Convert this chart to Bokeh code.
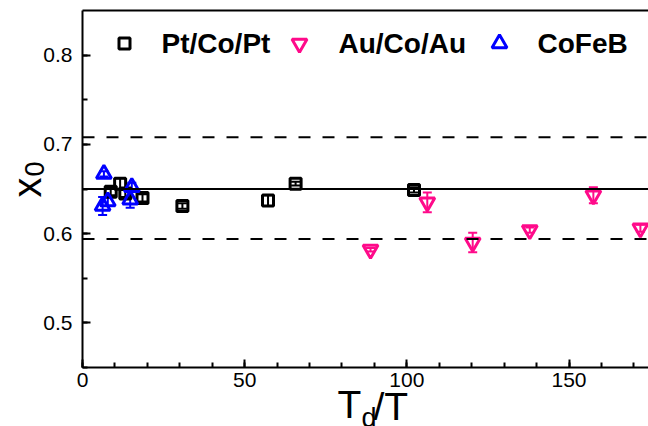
import math
from bokeh.plotting import figure
from bokeh.models import (ColumnDataSource, Whisker, TeeHead, Span, Label, Title,
                          LinearAxis, SingleIntervalTicker, FixedTicker)
from bokeh.embed import file_html
from bokeh.resources import INLINE

# ---- data ----
pt_x = [8.7, 11.6, 13.2, 18.5, 30.8, 57.2, 65.7, 102.2]
pt_y = [0.647, 0.656, 0.645, 0.640, 0.631, 0.637, 0.656, 0.649]
pt_err = [0.004, 0.006, 0.004, 0.004, 0.003, 0.006, 0.002, 0.003]

au_x = [88.8, 106.3, 120.3, 137.9, 157.5, 172.0]
au_y = [0.582, 0.635, 0.590, 0.604, 0.643, 0.606]
au_err = [0.002, 0.011, 0.011, 0.003, 0.009, 0.004]

cofeb_x = [6.6, 6.2, 7.8, 15.2, 14.7]
cofeb_y = [0.667, 0.631, 0.636, 0.652, 0.638]
cofeb_err = [0.003, 0.010, 0.005, 0.005, 0.009]

mean_line = 0.650
band_upper = 0.708
band_lower = 0.594

series_names = ["Pt/Co/Pt", "Au/Co/Au", "CoFeB"]

X0, X1 = 0, 174.5
Y0, Y1 = 0.45, 0.85

PINK = "#ff0a8a"
BLUE = "#0000ff"
FONT = "Liberation Sans"

W, H = 648, 426
BL, BR, BT, BB = 82, 0, 10, 59
fw = W - BL - BR
fh = H - BT - BB

def dx(px):
    return X0 + (px - BL) / fw * (X1 - X0)

def dy(py):
    return Y1 - (py - BT) / fh * (Y1 - Y0)

p = figure(width=W, height=H, x_range=(X0, X1), y_range=(Y0, Y1),
           output_backend="svg", toolbar_location=None,
           min_border_left=BL, min_border_right=BR, min_border_top=BT,
           min_border_bottom=BB, x_axis_type=None, y_axis_type=None)
p.outline_line_color = None
p.xgrid.visible = False
p.ygrid.visible = False
p.background_fill_color = "white"
p.border_fill_color = "white"

xaxis = LinearAxis(ticker=SingleIntervalTicker(interval=50, num_minor_ticks=5))
yaxis = LinearAxis(ticker=SingleIntervalTicker(interval=0.1, num_minor_ticks=2))
for ax in (xaxis, yaxis):
    ax.axis_line_width = 2
    ax.axis_line_color = "black"
    ax.major_tick_in = 8
    ax.major_tick_out = 0
    ax.minor_tick_in = 5
    ax.minor_tick_out = 0
    ax.major_tick_line_width = 2
    ax.minor_tick_line_width = 2
    ax.major_tick_line_color = "black"
    ax.minor_tick_line_color = "black"
    ax.major_label_text_font = FONT
    ax.major_label_text_font_size = "21px"
    ax.major_label_text_color = "black"
xaxis.major_label_standoff = 5
yaxis.major_label_standoff = 10
p.add_layout(xaxis, "below")
p.add_layout(yaxis, "left")

top = LinearAxis(ticker=FixedTicker(ticks=[]))
top.axis_line_width = 2
top.major_tick_in = 0
top.major_tick_out = 0
top.minor_tick_in = 0
top.minor_tick_out = 0
top.major_label_text_font_size = "0px"
top.major_label_standoff = 0
p.add_layout(top, "above")

# axis titles as side-panel titles (x with subscript 0; T with subscript d, /T)
def side_title(text, size, place, offset, standoff, valign="top"):
    t = Title(text=text, align="left", offset=offset, standoff=standoff,
              vertical_align=valign, text_font=FONT, text_font_size=size,
              text_font_style="normal", text_color="black")
    p.add_layout(t, place)

side_title("T", "39px", "below", 255, -14)
side_title("d", "27px", "below", 279, -35)
side_title("/T", "39px", "below", 291, -71)

side_title("0", "27px", "left", 191, -10)
side_title("x", "40px", "left", 170, -49)

# reference lines
p.add_layout(Span(location=mean_line, dimension="width", line_color="black", line_width=2))
for loc in (band_upper, band_lower):
    p.add_layout(Span(location=loc, dimension="width", line_color="black",
                      line_width=2, line_dash="12 12"))

def add_series(xs, ys, errs, marker, color, size):
    src = ColumnDataSource(dict(x=xs, y=ys,
                                lo=[a - b for a, b in zip(ys, errs)],
                                hi=[a + b for a, b in zip(ys, errs)]))
    wh = Whisker(source=src, base="x", lower="lo", upper="hi",
                 line_color=color, line_width=2,
                 upper_head=TeeHead(size=9, line_color=color, line_width=2),
                 lower_head=TeeHead(size=9, line_color=color, line_width=2))
    p.add_layout(wh)
    p.scatter("x", "y", source=src, marker=marker, size=size,
              fill_color=None, line_color=color, line_width=3)

add_series(pt_x, pt_y, pt_err, "square", "black", 11)
add_series(au_x, au_y, au_err, "inverted_triangle", PINK, 15)
add_series(cofeb_x, cofeb_y, cofeb_err, "triangle", BLUE, 15)

# legend (manual)
leg_items = [("square", "black", 11, 124, 161),
             ("inverted_triangle", PINK, 15, 299, 338),
             ("triangle", BLUE, 15, 499, 537)]
leg_y = 43
for (mk, col, sz, mx, tx), name in zip(leg_items, series_names):
    p.scatter([dx(mx)], [dy(leg_y)], marker=mk, size=sz, fill_color=None,
              line_color=col, line_width=3)
    p.add_layout(Label(x=dx(tx), y=dy(leg_y), text=name, text_font=FONT,
                       text_font_size="28px", text_font_style="bold",
                       text_color="black", text_align="left",
                       text_baseline="middle"))

open("out.html", "w").write(file_html(p, INLINE))
